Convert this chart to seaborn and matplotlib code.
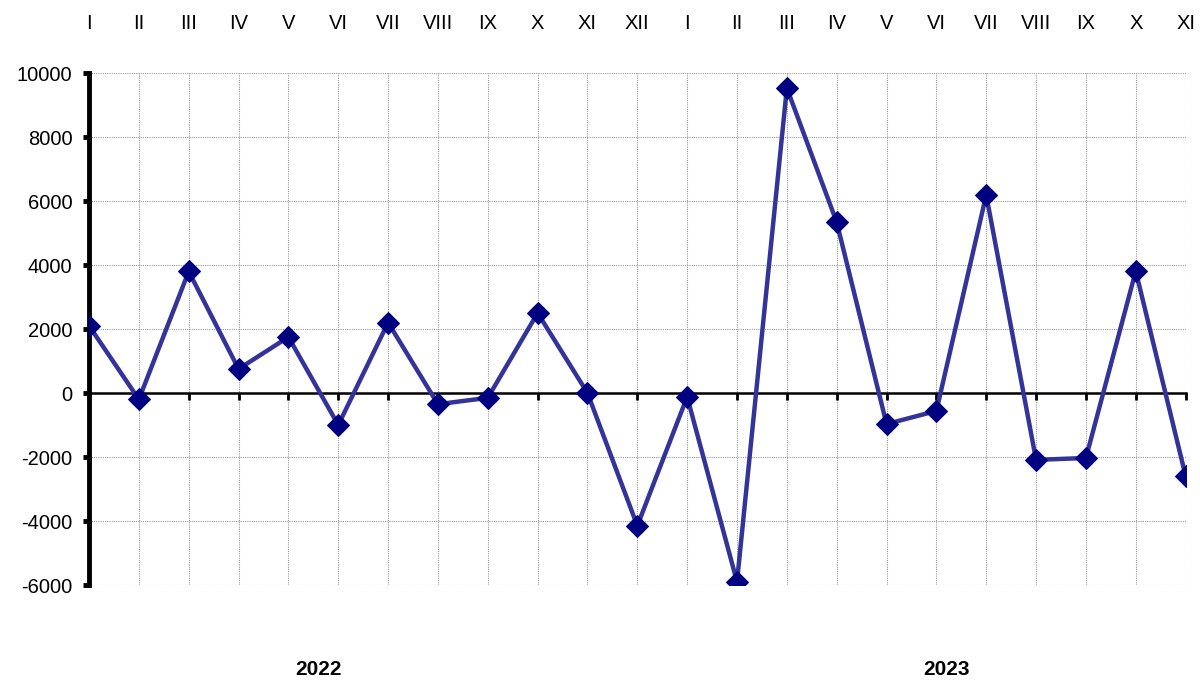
import matplotlib
matplotlib.use("Agg")
import matplotlib.pyplot as plt
import seaborn as sns
import pandas as pd

# %%
months = ["I", "II", "III", "IV", "V", "VI", "VII", "VIII", "IX", "X", "XI", "XII",
          "I", "II", "III", "IV", "V", "VI", "VII", "VIII", "IX", "X", "XI"]
values = [2100, -200, 3800, 750, 1750, -1000, 2200, -350, -150, 2500, 0, -4150,
          -120, -5900, 9530, 5340, -970, -560, 6190, -2090, -2030, 3810, -2590]
years = ["2022", "2023"]
year_pos = [4.6, 17.2]

df = pd.DataFrame({"idx": range(len(values)), "value": values})

# %%
sns.set_style("white")
plt.rcParams["font.family"] = ["Liberation Sans", "DejaVu Sans"]
plt.rcParams["axes.unicode_minus"] = False
plt.rcParams["text.color"] = "black"
plt.rcParams["xtick.labelcolor"] = "black"
plt.rcParams["ytick.labelcolor"] = "black"

fig = plt.figure(figsize=(12, 6.8), dpi=100)
ax = fig.add_axes([0.0742, 0.1397, 0.9138, 0.7529])

sns.lineplot(data=df, x="idx", y="value", ax=ax, color="#333399", linewidth=3.2,
             marker="D", markersize=11, markerfacecolor="#000080",
             markeredgecolor="#000080", zorder=5)

ax.set_xlim(0, len(values) - 1)
ax.set_ylim(-6000, 10000)
ax.set_yticks(range(-6000, 10001, 2000))
ax.set_xticks(range(len(values)))
ax.set_xticklabels(months)

# grid
ax.grid(True, color="#9a9a9a", linestyle=(0, (1, 1)), linewidth=0.8)
ax.set_axisbelow(True)

# spines
ax.spines["top"].set_visible(False)
ax.spines["right"].set_visible(False)
ax.spines["left"].set_linewidth(3.5)
ax.spines["left"].set_color("black")
ax.spines["bottom"].set_position(("data", 0))
ax.spines["bottom"].set_linewidth(1.8)
ax.spines["bottom"].set_color("black")
ax.spines["bottom"].set_zorder(3)

ax.tick_params(axis="x", bottom=True, top=False, labelbottom=False, labeltop=True,
               direction="out", length=5, width=2, color="black", pad=24,
               labelsize=14.5)
ax.tick_params(axis="y", left=True, direction="out", length=4, width=3.5,
               color="black", labelsize=14.5, pad=8)

ax.set_xlabel("")
ax.set_ylabel("")

for pos, yr in zip(year_pos, years):
    ax.text(pos, -0.165, yr, transform=ax.get_xaxis_transform(), ha="center",
            va="center", fontsize=15, fontweight="bold")

fig.savefig("out.png", dpi=100)
